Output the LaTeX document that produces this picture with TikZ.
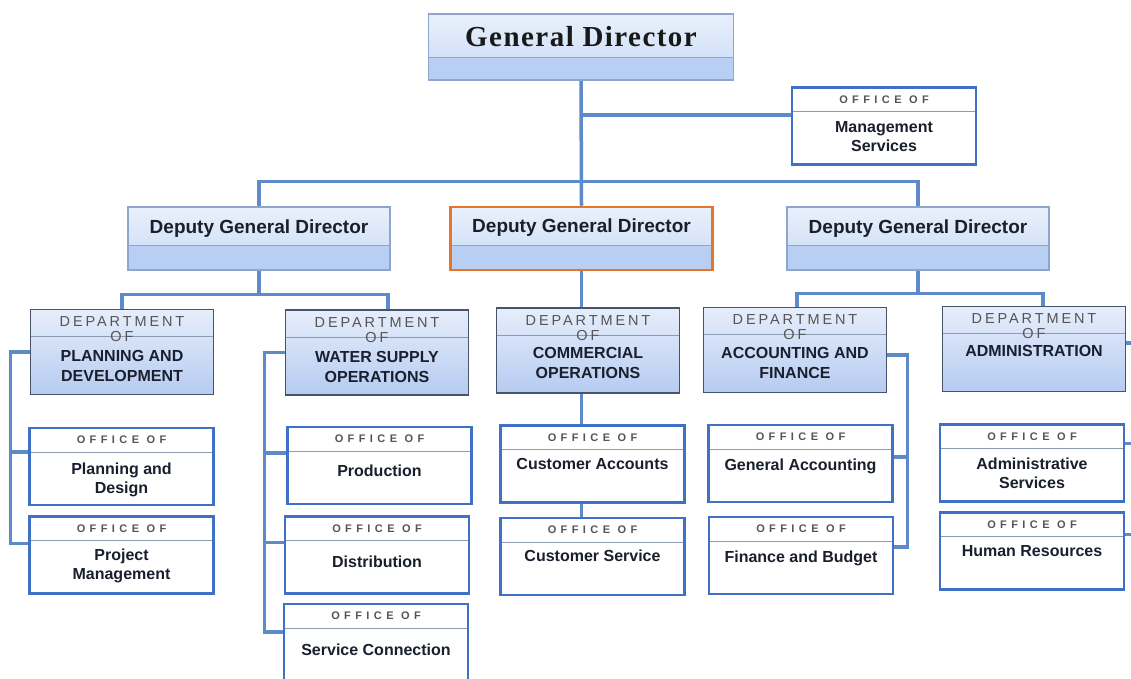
\documentclass[tikz,border=0pt]{standalone}
\usepackage{fontspec}
\setmainfont{Liberation Sans}
\newfontfamily\gdfont[LetterSpace=5]{Liberation Serif}
\newfontfamily\deptfont[LetterSpace=20]{Liberation Sans}
\newfontfamily\officefont[LetterSpace=40]{Liberation Sans}
\usetikzlibrary{backgrounds}
\definecolor{linkblue}{HTML}{5D8AC8}
\definecolor{dirtop}{HTML}{E8F0FC}
\definecolor{dirbot}{HTML}{C9DAF5}
\definecolor{bandblue}{HTML}{B8CEF3}
\definecolor{dirframe}{HTML}{8EA6CC}
\definecolor{orangeframe}{HTML}{E8732A}
\definecolor{deptframe}{HTML}{46536A}
\definecolor{depttop}{HTML}{E6EEFB}
\definecolor{deptbot}{HTML}{B6CBF1}
\definecolor{officeframe}{HTML}{3F71C6}
\definecolor{sepgray}{HTML}{8E9BB0}
\definecolor{headgray}{HTML}{555555}
\definecolor{inkblue}{HTML}{1A1F2E}

\begin{document}
\begin{tikzpicture}[x=1pt,y=-1pt]
  \tikzstyle{conn}=[draw=linkblue,line width=3.5pt]
  \tikzstyle{gdbox}=[draw=dirframe,line width=1.2pt,top color=dirtop,bottom color=dirbot,
    minimum width=305pt,minimum height=66pt,inner sep=0pt,
    path picture={\fill[bandblue] ([yshift=-44pt]path picture bounding box.north west) rectangle (path picture bounding box.south east);
      \draw[dirframe,line width=1pt] ([yshift=-44pt]path picture bounding box.north west) -- ([yshift=-44pt]path picture bounding box.north east);}]
  \tikzstyle{deputy}=[draw=dirframe,line width=1.2pt,top color=dirtop,bottom color=dirbot,
    minimum width=262pt,minimum height=63pt,inner sep=0pt,
    path picture={\fill[bandblue] ([yshift=-38pt]path picture bounding box.north west) rectangle (path picture bounding box.south east);
      \draw[dirframe,line width=1pt] ([yshift=-38pt]path picture bounding box.north west) -- ([yshift=-38pt]path picture bounding box.north east);}]
  \tikzstyle{dept}=[draw=deptframe,line width=1.8pt,top color=depttop,bottom color=deptbot,
    minimum width=183pt,minimum height=85pt,inner sep=0pt,
    path picture={\draw[sepgray,line width=1pt] ([yshift=-27pt]path picture bounding box.north west) -- ([yshift=-27pt]path picture bounding box.north east);}]
  \tikzstyle{office}=[draw=officeframe,line width=2.5pt,fill=white,
    minimum width=184pt,minimum height=77pt,inner sep=0pt,
    path picture={\draw[sepgray,line width=0.8pt] ([yshift=-24pt]path picture bounding box.north west) -- ([yshift=-24pt]path picture bounding box.north east);}]
  \tikzstyle{gdtext}=[anchor=base,inner sep=0pt,text=black!90,font=\gdfont\bfseries\fontsize{29}{32}\selectfont]
  \tikzstyle{deputytext}=[anchor=base,inner sep=0pt,text=inkblue,font=\bfseries\fontsize{19}{22}\selectfont]
  \tikzstyle{depthead}=[inner sep=0pt,text=headgray,font=\deptfont\fontsize{14.5}{16}\selectfont]
  \tikzstyle{depttext}=[anchor=north,inner sep=0pt,align=center,text=inkblue,font=\bfseries\fontsize{16}{20}\selectfont]
  \tikzstyle{offhead}=[inner sep=0pt,text=headgray,font=\officefont\bfseries\fontsize{11}{13}\selectfont]
  \tikzstyle{offtext}=[anchor=north,inner sep=0pt,align=center,text=inkblue,font=\bfseries\fontsize{16}{19}\selectfont]
  \useasboundingbox (0,0) rectangle (1131,679);

  % general director and staff office
  \node[gdbox] (gd) at (581,47) {};
    \node[gdtext] (gdt) at ([yshift=-33pt]gd.north) {General Director};
  \node[office] (ms) at (884,126) {};
    \node[offhead] (msh) at ([yshift=-13pt]ms.north) {OFFICE OF};
    \node[offtext] (mst) at ([yshift=-35pt]ms.north) {Management\\Services};

  % deputies
  \node[deputy] (dgdl) at (259,238.5) {};
    \node[deputytext] (dgdlt) at ([yshift=-27pt]dgdl.north) {Deputy General Director};
  \node[deputy,draw=orangeframe,line width=2.5pt] (dgdm) at (581.5,238.5) {};
    \node[deputytext] (dgdmt) at ([yshift=-27pt]dgdm.north) {Deputy General Director};
  \node[deputy] (dgdr) at (918,238.5) {};
    \node[deputytext] (dgdrt) at ([yshift=-27pt]dgdr.north) {Deputy General Director};

  % departments
  \node[dept] (pd) at (122,352) {};
    \node[depthead] (pdh) at ([yshift=-13pt]pd.north) {DEPARTMENT};
    \node[depthead] (pdof) at ([yshift=-28pt]pd.north) {OF};
    \node[depttext] (pdt) at ([yshift=-42pt]pd.north) {PLANNING AND\\DEVELOPMENT};
  \node[dept] (ws) at (377,352.5) {};
    \node[depthead] (wsh) at ([yshift=-13pt]ws.north) {DEPARTMENT};
    \node[depthead] (wsof) at ([yshift=-28pt]ws.north) {OF};
    \node[depttext] (wst) at ([yshift=-42pt]ws.north) {WATER SUPPLY\\OPERATIONS};
  \node[dept] (co) at (588,350.5) {};
    \node[depthead] (coh) at ([yshift=-13pt]co.north) {DEPARTMENT};
    \node[depthead] (coof) at ([yshift=-28pt]co.north) {OF};
    \node[depttext] (cot) at ([yshift=-40pt]co.north) {COMMERCIAL\\OPERATIONS};
  \node[dept] (af) at (795,350) {};
    \node[depthead] (afh) at ([yshift=-13pt]af.north) {DEPARTMENT};
    \node[depthead] (afof) at ([yshift=-28pt]af.north) {OF};
    \node[depttext] (aft) at ([yshift=-41pt]af.north) {ACCOUNTING AND\\FINANCE};
  \node[dept] (ad) at (1034,349) {};
    \node[depthead] (adh) at ([yshift=-13pt]ad.north) {DEPARTMENT};
    \node[depthead] (adof) at ([yshift=-28pt]ad.north) {OF};
    \node[depttext] (adt) at ([yshift=-40pt]ad.north) {ADMINISTRATION};

  % offices
  \node[office] (od) at (121.5,466.5) {};
    \node[offhead] (odh) at ([yshift=-13pt]od.north) {OFFICE OF};
    \node[offtext] (odt) at ([yshift=-36pt]od.north) {Planning and\\Design};
  \node[office] (pm) at (121.5,555) {};
    \node[offhead] (pmh) at ([yshift=-13pt]pm.north) {OFFICE OF};
    \node[offtext] (pmt) at ([yshift=-33pt]pm.north) {Project\\Management};
  \node[office] (pr) at (379.5,465.5) {};
    \node[offhead] (prh) at ([yshift=-13pt]pr.north) {OFFICE OF};
    \node[offtext] (prt) at ([yshift=-39pt]pr.north) {Production};
  \node[office] (di) at (377,555) {};
    \node[offhead] (dih) at ([yshift=-13pt]di.north) {OFFICE OF};
    \node[offtext] (dit) at ([yshift=-40pt]di.north) {Distribution};
  \node[office] (sc) at (376,642.5) {};
    \node[offhead] (sch) at ([yshift=-13pt]sc.north) {OFFICE OF};
    \node[offtext] (sct) at ([yshift=-41pt]sc.north) {Service Connection};
  \node[office] (ca) at (592.5,464) {};
    \node[offhead] (cah) at ([yshift=-13pt]ca.north) {OFFICE OF};
    \node[offtext] (cat) at ([yshift=-34pt]ca.north) {Customer Accounts};
  \node[office] (cs) at (592.5,556.5) {};
    \node[offhead] (csh) at ([yshift=-13pt]cs.north) {OFFICE OF};
    \node[offtext] (cst) at ([yshift=-33pt]cs.north) {Customer Service};
  \node[office] (ga) at (800.5,463.5) {};
    \node[offhead] (gah) at ([yshift=-13pt]ga.north) {OFFICE OF};
    \node[offtext] (gat) at ([yshift=-35pt]ga.north) {General Accounting};
  \node[office] (fb) at (801,555.5) {};
    \node[offhead] (fbh) at ([yshift=-13pt]fb.north) {OFFICE OF};
    \node[offtext] (fbt) at ([yshift=-35pt]fb.north) {Finance and Budget};
  \node[office] (as) at (1032,463) {};
    \node[offhead] (ash) at ([yshift=-13pt]as.north) {OFFICE OF};
    \node[offtext] (ast) at ([yshift=-34pt]as.north) {Administrative\\Services};
  \node[office] (hr) at (1032,551) {};
    \node[offhead] (hrh) at ([yshift=-13pt]hr.north) {OFFICE OF};
    \node[offtext] (hrt) at ([yshift=-34pt]hr.north) {Human Resources};

  % connectors
  \begin{scope}[on background layer]
    \draw[conn] (gd.south) -- (dgdm.north);
    \coordinate (msj) at (581,115);
    \draw[conn] (msj) -- (msj -| ms.west);
    \draw[conn] (dgdl.north) -- ++(0,-25) -| (dgdr.north);
    \draw[conn] (dgdl.south) -- ++(0,24) coordinate (jl);
    \draw[conn] (pd.north) |- (jl) -| ([xshift=11pt]ws.north);
    \draw[conn] (dgdm.south) -- (dgdm.south |- cs.north);
    \draw[conn] (dgdr.south) -- ++(0,23) coordinate (jr);
    \draw[conn] ([xshift=2pt]af.north) |- (jr) -| ([xshift=9pt]ad.north);
    \draw[conn] (pd.west) -- ++(-19,0) coordinate (pdl) |- ([yshift=-28pt]pm.north west);
    \draw[conn] (pdl) |- ([yshift=-25pt]od.north west);
    \draw[conn] (ws.west) -- ++(-20,0) coordinate (wsl) |- ([yshift=-29pt]sc.north west);
    \draw[conn] (wsl) |- ([yshift=-27pt]pr.north west);
    \draw[conn] (wsl) |- ([yshift=-27pt]di.north west);
    \draw[conn] ([yshift=-5pt]af.east) -- ++(20,0) coordinate (afr) |- ([yshift=-31pt]fb.north east);
    \draw[conn] (afr) |- ([yshift=-33pt]ga.north east);
    \coordinate (edge) at (1131,0);
    \draw[conn] ([yshift=6pt]ad.east) -- ([yshift=6pt]ad.east -| edge);
    \draw[conn] ([yshift=-20pt]as.north east) -- ([yshift=-20pt]as.north east -| edge);
    \draw[conn] ([yshift=-23pt]hr.north east) -- ([yshift=-23pt]hr.north east -| edge);
  \end{scope}
\end{tikzpicture}
\end{document}
